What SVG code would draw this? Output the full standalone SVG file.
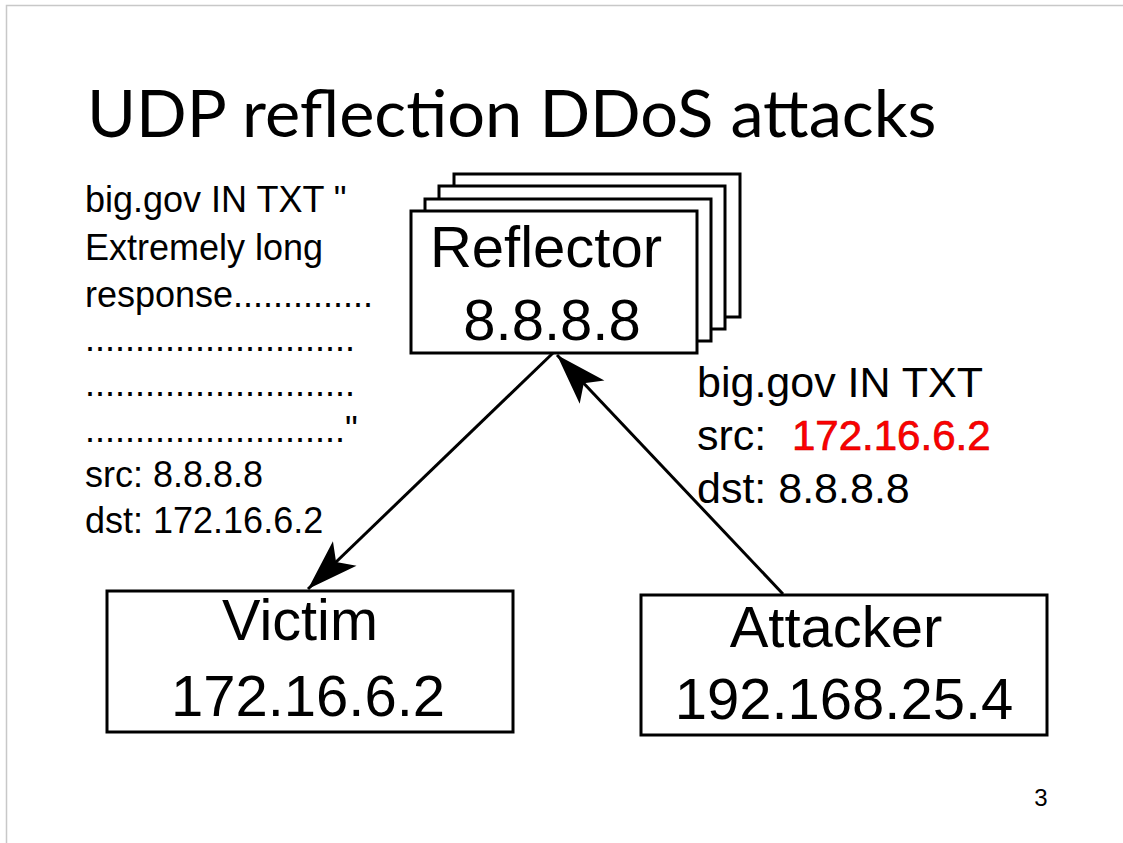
<svg xmlns="http://www.w3.org/2000/svg" width="1123" height="843" viewBox="0 0 1123 843">
<defs>
<style>
.box{fill:#fff;stroke:#000;stroke-width:3}
.t{font-family:"Liberation Sans",Arial,sans-serif;fill:#000}
.big{font-size:58px;text-anchor:middle}
.note{font-size:36px}
.note2{font-size:43px}
.edge{stroke:#000;stroke-width:3;fill:none;marker-end:url(#arr)}
</style>
<marker id="arr" markerUnits="userSpaceOnUse" markerWidth="60" markerHeight="40" viewBox="-52 -20 54 40" refX="0" refY="0" orient="auto">
<path d="M0,0 L-51,-17 L-39,0 L-51,17 Z" fill="#000"/>
</marker>
</defs>
<rect width="1123" height="843" fill="#fff"/>
<path d="M6.5,843 V5.5 H1123" fill="none" stroke="#c8c8c8" stroke-width="1.5"/>
<text x="87" y="137" font-family="Lato,'Carlito',sans-serif" font-size="66.7" fill="#000">UDP reflection DDoS attacks</text>
<g id="note-response" class="t note">
<text x="85" y="212">big.gov IN TXT "</text>
<text x="85" y="260">Extremely long</text>
<text x="85" y="307">response..............</text>
<text x="85" y="351">...........................</text>
<text x="85" y="396">...........................</text>
<text x="85" y="442">.........................."</text>
<text x="85" y="487">src: 8.8.8.8</text>
<text x="85" y="533">dst: 172.16.6.2</text>
</g>
<g id="reflector">
<rect class="box" x="454" y="174" width="286" height="143"/>
<rect class="box" x="439" y="186" width="286" height="143"/>
<rect class="box" x="425" y="199" width="286" height="142"/>
<rect class="box" x="411" y="211" width="286" height="142"/>
<text class="t big" x="546" y="267">Reflector</text>
<text class="t big" x="552" y="340">8.8.8.8</text>
</g>
<g id="victim">
<rect class="box" x="107" y="591" width="406" height="141"/>
<text class="t big" x="300" y="640" textLength="156" lengthAdjust="spacingAndGlyphs">Victim</text>
<text class="t big" x="308" y="716">172.16.6.2</text>
</g>
<g id="attacker">
<rect class="box" x="641" y="595" width="406" height="140"/>
<text class="t big" x="836" y="647">Attacker</text>
<text class="t big" x="844" y="719" font-size="59.5">192.168.25.4</text>
</g>
<g id="note-request" class="t note2">
<text x="697" y="397">big.gov IN TXT</text>
<text x="697" y="450">src: <tspan x="792" font-size="42" fill="#ff0000" stroke="#d00000" stroke-width="0.7">172.16.6.2</tspan></text>
<text x="697" y="503">dst: 8.8.8.8</text>
</g>
<g id="connectors">
<line class="edge" x1="553" y1="353" x2="308" y2="589"/>
<line class="edge" x1="783" y1="594" x2="557" y2="355"/>
</g>
<text x="1041" y="806" font-family="'Liberation Sans',Arial,sans-serif" font-size="24" text-anchor="middle" fill="#000">3</text>
</svg>
